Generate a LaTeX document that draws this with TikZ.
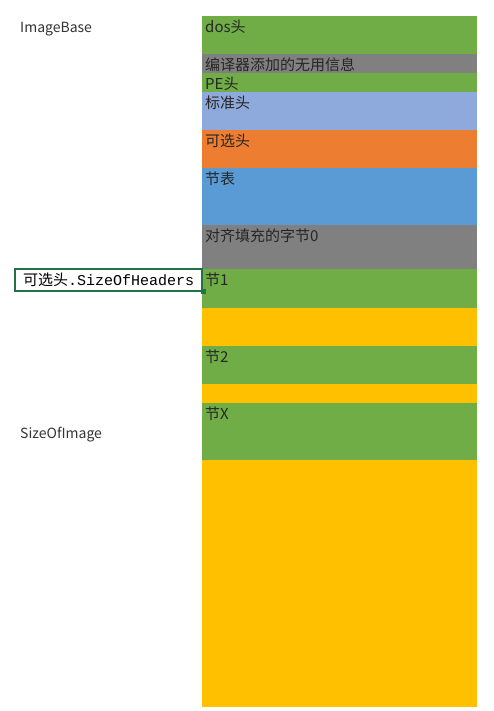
\documentclass[tikz,border=0pt]{standalone}
\usepackage{fontspec}
\setmainfont{Noto Sans CJK SC}
\newfontfamily\monofont{Liberation Mono}
\usetikzlibrary{positioning}
\definecolor{secgreen}{HTML}{70AD47}
\definecolor{padgray}{HTML}{808080}
\definecolor{stdblue}{HTML}{8EA9DB}
\definecolor{optorange}{HTML}{ED7D31}
\definecolor{tabblue}{HTML}{5B9BD5}
\definecolor{gapyellow}{HTML}{FFC000}
\definecolor{cellgreen}{HTML}{217346}
\tikzset{
  seg/.style={minimum width=275pt,inner sep=0pt,outer sep=0pt,
    label={[anchor=north west,inner sep=0pt,xshift=3pt,yshift=-4pt,font=\fontsize{15}{17}\selectfont,text=black!85]north west:#1}},
  seg/.default={},
  sidelabel/.style={anchor=west,inner sep=0pt,font=\fontsize{14}{16}\selectfont,text=black!80},
  selbox/.style={draw=cellgreen,line width=1.6pt,fill=white,minimum width=187pt,minimum height=22pt,inner sep=0pt,font=\fontsize{15}{17}\selectfont},
}
\begin{document}
\begin{tikzpicture}[x=1pt,y=-1pt]
  \useasboundingbox (0,0) rectangle (494,711);
  % stack of image parts
  \node[seg=dos头,fill=secgreen,minimum height=38pt,anchor=north west] (dos) at (202,16) {};
  \node[seg=编译器添加的无用信息,fill=padgray,minimum height=19pt,below=0pt of dos] (stub) {};
  \node[seg=PE头,fill=secgreen,minimum height=19pt,below=0pt of stub] (pehdr) {};
  \node[seg=标准头,fill=stdblue,minimum height=38pt,below=0pt of pehdr] (filehdr) {};
  \node[seg=可选头,fill=optorange,minimum height=38pt,below=0pt of filehdr] (opthdr) {};
  \node[seg=节表,fill=tabblue,minimum height=57pt,below=0pt of opthdr] (sectab) {};
  \node[seg=对齐填充的字节0,fill=padgray,minimum height=44pt,below=0pt of sectab] (align) {};
  \node[seg=节1,fill=secgreen,minimum height=39pt,below=0pt of align] (sec1) {};
  \node[seg,fill=gapyellow,minimum height=38pt,below=0pt of sec1] (gap1) {};
  \node[seg=节2,fill=secgreen,minimum height=38pt,below=0pt of gap1] (sec2) {};
  \node[seg,fill=gapyellow,minimum height=19pt,below=0pt of sec2] (gap2) {};
  \node[seg=节X,fill=secgreen,minimum height=57pt,below=0pt of gap2] (secx) {};
  \node[seg,fill=gapyellow,minimum height=247pt,below=0pt of secx] (rest) {};
  % labels on the left
  \node[sidelabel] (base) at (20,29) {ImageBase};
  \node[sidelabel] (imgsize) at (20,435) {SizeOfImage};
  \node[selbox,anchor=east] (hdrsize) at (203,280) {可选头{\monofont.SizeOfHeaders}};
  \node[fill=cellgreen,minimum size=5pt,inner sep=0pt] (handle) at (hdrsize.south east) {};
\end{tikzpicture}
\end{document}
